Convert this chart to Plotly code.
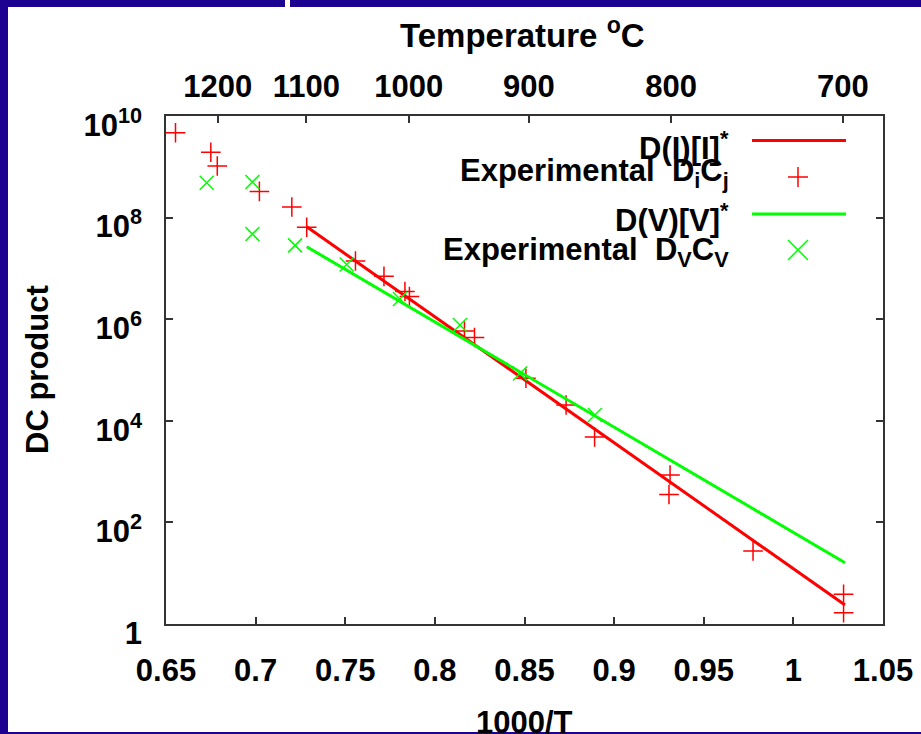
import plotly.graph_objects as go

# ---------------- data ----------------
inv_T_di = [0.6553, 0.6750, 0.6786, 0.7021, 0.7202, 0.7285, 0.7557, 0.7716, 0.7833, 0.7858,
            0.8165, 0.8221, 0.8508, 0.8732, 0.8891, 0.9312, 0.9306, 0.9775, 1.0280, 1.0280]
dc_di = [4.69e9, 1.93e9, 1.04e9, 3.28e8, 1.62e8, 6.44e7, 1.40e7, 6.98e6, 3.51e6, 2.80e6,
         5.86e5, 4.37e5, 6.87e4, 2.05e4, 4.80e3, 857, 354, 27.4, 3.85, 1.66]

inv_T_dv = [0.6727, 0.6982, 0.6982, 0.7220, 0.7508, 0.7805, 0.8140, 0.8475, 0.8893]
dc_dv = [4.86e8, 5.02e8, 4.75e7, 2.84e7, 1.19e7, 2.50e6, 7.69e5, 8.53e4, 1.30e4]

fit_inv_T = [0.7285, 1.0288]
fit_di = [6.6e7, 2.37]
fit_dv = [2.67e7, 16.1]

temp_ticks_c = [1200, 1100, 1000, 900, 800, 700]
x_ticks = [0.65, 0.7, 0.75, 0.8, 0.85, 0.9, 0.95, 1.0, 1.05]
x_tick_text = ["0.65", "0.7", "0.75", "0.8", "0.85", "0.9", "0.95", "1", "1.05"]
y_ticks = [1, 1e2, 1e4, 1e6, 1e8, 1e10]
y_tick_text = ["1", "10<sup>2</sup>", "10<sup>4</sup>", "10<sup>6</sup>", "10<sup>8</sup>", "10<sup>10</sup>"]

legend_labels = ["D(I)[I]<sup>*</sup>",
                 "Experimental&nbsp;&nbsp;D<sub>i</sub>C<sub>j</sub>",
                 "D(V)[V]<sup>*</sup>",
                 "Experimental&nbsp;&nbsp;D<sub>V</sub>C<sub>V</sub>"]

# ---------------- layout geometry ----------------
W, H = 921, 734
L, R, T, B = 166, 883, 116, 624
RED = "#ff0000"
GREEN = "#00ff00"
BLUE = "#1d0190"
AXC = "#333333"
FONT = "Liberation Sans"
FS = 31


def fx(p):
    return (p - L) / (R - L)


def fy(p):
    return (B - p) / (B - T)


temp_tickvals = [1000.0 / (t + 273.15) for t in temp_ticks_c]

fig = go.Figure()
fig.add_trace(go.Scatter(x=fit_inv_T, y=fit_di, mode="lines",
                         line=dict(color=RED, width=3), showlegend=False))
fig.add_trace(go.Scatter(x=inv_T_di, y=dc_di, mode="markers",
                         marker=dict(symbol="cross-thin", size=14, color=RED,
                                     line=dict(color=RED, width=1.5)), showlegend=False))
fig.add_trace(go.Scatter(x=fit_inv_T, y=fit_dv, mode="lines",
                         line=dict(color=GREEN, width=3), showlegend=False))
fig.add_trace(go.Scatter(x=inv_T_dv, y=dc_dv, mode="markers",
                         marker=dict(symbol="x-thin", size=14, color=GREEN,
                                     line=dict(color=GREEN, width=1.5)), showlegend=False))
# invisible carrier trace so the top (temperature) axis is drawn
fig.add_trace(go.Scatter(x=temp_tickvals, y=[1] * len(temp_tickvals), xaxis="x2", yaxis="y",
                         mode="markers", marker=dict(opacity=0), hoverinfo="skip",
                         showlegend=False))

tickfont = dict(family=FONT, size=FS, color="black", weight="bold")

fig.update_layout(
    width=W, height=H,
    margin=dict(l=L, r=W - R, t=T, b=H - B, autoexpand=False),
    paper_bgcolor=BLUE, plot_bgcolor="white",
    showlegend=False,
    xaxis=dict(range=[0.65, 1.05], tickmode="array", tickvals=x_ticks, ticktext=x_tick_text,
               ticks="inside", ticklen=7, tickwidth=1.5, tickcolor=AXC,
               showline=True, linecolor=AXC, linewidth=1.5, mirror=True,
               showgrid=False, zeroline=False, tickfont=tickfont, ticklabelstandoff=18),
    xaxis2=dict(range=[0.65, 1.05], overlaying="x", side="top", anchor="y",
                tickmode="array", tickvals=temp_tickvals, ticktext=[str(t) for t in temp_ticks_c],
                ticks="inside", ticklen=7, tickwidth=1.5, tickcolor=AXC,
                showline=False, showgrid=False, zeroline=False, tickfont=tickfont,
                ticklabelstandoff=12),
    yaxis=dict(type="log", range=[0, 10], tickmode="array", tickvals=y_ticks, ticktext=y_tick_text,
               ticks="inside", ticklen=7, tickwidth=1.5, tickcolor=AXC,
               showline=True, linecolor=AXC, linewidth=1.5, mirror="ticks",
               showgrid=False, zeroline=False, tickfont=tickfont, ticklabelstandoff=16,
               ticklabelshift=9),
)

shapes = []
# white slide panel and the small notch in the top strip
shapes.append(dict(type="rect", xref="paper", yref="paper", layer="below",
                   x0=fx(8), x1=fx(W + 5), y0=fy(7), y1=fy(732),
                   fillcolor="white", line=dict(width=0)))
shapes.append(dict(type="rect", xref="paper", yref="paper", layer="below",
                   x0=fx(285), x1=fx(290), y0=fy(-2), y1=fy(7),
                   fillcolor="#fffff0", line=dict(width=0)))

# legend samples (gnuplot style: key to the right of text)
key_x0, key_x1, key_xc = 752, 846, 798
row_y = [140.5, 177, 214, 250]
shapes.append(dict(type="line", xref="paper", yref="paper", x0=fx(key_x0), x1=fx(key_x1),
                   y0=fy(row_y[0]), y1=fy(row_y[0]), line=dict(color=RED, width=3)))
shapes.append(dict(type="line", xref="paper", yref="paper", x0=fx(key_xc - 10), x1=fx(key_xc + 10),
                   y0=fy(row_y[1]), y1=fy(row_y[1]), line=dict(color=RED, width=1.5)))
shapes.append(dict(type="line", xref="paper", yref="paper", x0=fx(key_xc), x1=fx(key_xc),
                   y0=fy(row_y[1] - 10), y1=fy(row_y[1] + 10), line=dict(color=RED, width=1.5)))
shapes.append(dict(type="line", xref="paper", yref="paper", x0=fx(key_x0), x1=fx(key_x1),
                   y0=fy(row_y[2]), y1=fy(row_y[2]), line=dict(color=GREEN, width=3)))
shapes.append(dict(type="line", xref="paper", yref="paper", x0=fx(key_xc - 10), x1=fx(key_xc + 10),
                   y0=fy(row_y[3] - 10), y1=fy(row_y[3] + 10), line=dict(color=GREEN, width=1.5)))
shapes.append(dict(type="line", xref="paper", yref="paper", x0=fx(key_xc - 10), x1=fx(key_xc + 10),
                   y0=fy(row_y[3] + 10), y1=fy(row_y[3] - 10), line=dict(color=GREEN, width=1.5)))
fig.update_layout(shapes=shapes)

annots = []
text_y = [146, 172.5, 218, 252.5]
for lab, ty in zip(legend_labels, text_y):
    annots.append(dict(text=lab, xref="paper", yref="paper", x=fx(731), y=fy(ty),
                       xanchor="right", yanchor="middle", showarrow=False,
                       font=dict(family=FONT, size=31, color="black", weight="bold")))
# axis titles
annots.append(dict(text="Temperature <sup>o</sup>C", xref="paper", yref="paper",
                   x=fx(522), y=fy(33), xanchor="center", yanchor="middle", showarrow=False,
                   font=dict(family=FONT, size=33, color="black", weight="bold")))
annots.append(dict(text="DC product", xref="paper", yref="paper", textangle=-90,
                   x=fx(37), y=fy(370), xanchor="center", yanchor="middle", showarrow=False,
                   font=dict(family=FONT, size=31, color="black", weight="bold")))
annots.append(dict(text="1000/T", xref="paper", yref="paper",
                   x=fx(524), y=fy(722), xanchor="center", yanchor="middle", showarrow=False,
                   font=dict(family=FONT, size=31, color="black", weight="bold")))
fig.update_layout(annotations=annots)

fig.write_html("out.html")
